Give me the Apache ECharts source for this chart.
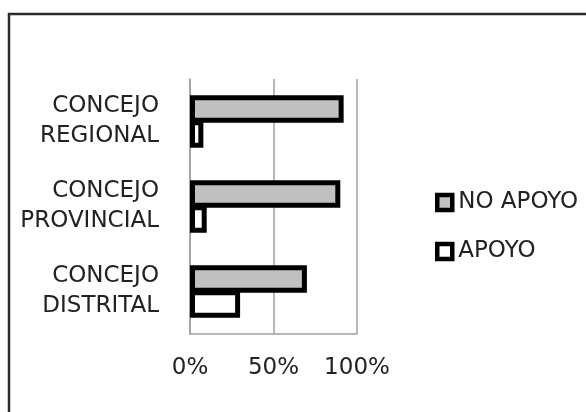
<!DOCTYPE html>
<html>
<head>
<meta charset="utf-8">
<script src="https://cdn.jsdelivr.net/npm/echarts@6/dist/echarts.min.js"></script>
<style>
html,body{margin:0;padding:0;background:#fff;}
#c{width:586px;height:412px;}
</style>
</head>
<body>
<div id="c"></div>
<script>
const categories = ['CONCEJO\nDISTRITAL', 'CONCEJO\nPROVINCIAL', 'CONCEJO\nREGIONAL'];
const noApoyo = [70, 90, 92];
const apoyo = [30, 10, 8];
const xTicks = { min: 0, max: 100, interval: 50 };

const FONT = 'DejaVu Sans';
const chart = echarts.init(document.getElementById('c'), null, { renderer: 'canvas' });
chart.setOption({
  backgroundColor: '#ffffff',
  animation: false,
  graphic: [{
    type: 'rect',
    shape: { x: 9, y: 14, width: 620, height: 440 },
    style: { fill: 'none', stroke: '#2b2b2b', lineWidth: 2.5 },
    silent: true, z: 100
  }],
  grid: { left: 190, top: 79, width: 167, height: 255, containLabel: false },
  legend: {
    orient: 'vertical',
    left: 435,
    top: 191,
    padding: 0,
    icon: 'rect',
    itemWidth: 15,
    itemHeight: 15,
    itemGap: 26,
    itemStyle: { borderWidth: 4.5, borderColor: '#000' },
    textStyle: { fontFamily: FONT, fontSize: 23, color: '#222', lineHeight: 23, padding: [0, 0, 0, 1] },
    data: ['NO APOYO', 'APOYO']
  },
  xAxis: {
    type: 'value',
    min: xTicks.min, max: xTicks.max, interval: xTicks.interval,
    axisLine: { show: true, lineStyle: { color: '#a0a0a0', width: 1.5 } },
    axisTick: { show: false },
    splitLine: { show: true, lineStyle: { color: '#a0a0a0', width: 1.5 } },
    axisLabel: { formatter: '{value}%', fontFamily: FONT, fontSize: 23, color: '#222', margin: 23 }
  },
  yAxis: {
    type: 'category',
    data: categories,
    axisLine: { show: true, lineStyle: { color: '#a0a0a0', width: 1.5 } },
    axisTick: { show: false },
    axisLabel: { fontFamily: FONT, fontSize: 23, lineHeight: 30, color: '#222', margin: 31, align: 'right', padding: [4, 0, 0, 0] }
  },
  series: [
    {
      name: 'NO APOYO', type: 'bar', data: noApoyo, barWidth: 27.5, barGap: '-9%',
      itemStyle: { color: '#c0c0c0', borderColor: '#000', borderWidth: 5 }
    },
    {
      name: 'APOYO', type: 'bar', data: apoyo, barWidth: 27.5, barGap: '-9%',
      itemStyle: { color: '#ffffff', borderColor: '#000', borderWidth: 5 }
    }
  ]
});
</script>
</body>
</html>
